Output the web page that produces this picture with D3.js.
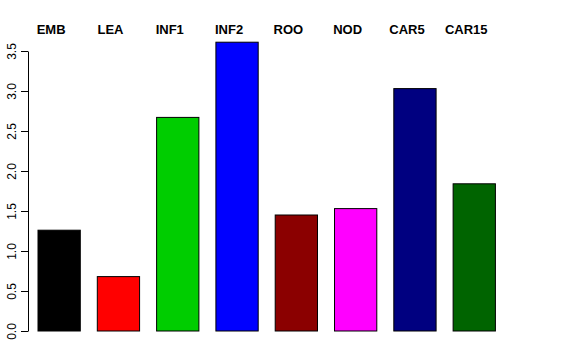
<!DOCTYPE html>
<html>
<head>
<meta charset="utf-8">
<script src="https://cdn.jsdelivr.net/npm/d3@7"></script>
<style>
  body { margin: 0; background: #fff; }
  text { font-family: "Liberation Sans", Arial, Helvetica, sans-serif; }
</style>
</head>
<body>
<script>
// data
var categories = ["EMB", "LEA", "INF1", "INF2", "ROO", "NOD", "CAR5", "CAR15"];
var values     = [1.26, 0.68, 2.67, 3.61, 1.45, 1.53, 3.03, 1.84];
var colors     = ["#000000", "#ff0000", "#00cd00", "#0000ff", "#8b0000", "#ff00ff", "#000080", "#006400"];
var yTicks     = [0, 0.5, 1, 1.5, 2, 2.5, 3, 3.5];

var w = 576, h = 360;

var svg = d3.select("body").append("svg")
    .attr("width", w)
    .attr("height", h);

var x = d3.scaleBand()
    .domain(categories)
    .range([38, 495.4])
    .paddingInner(0.287)
    .paddingOuter(0);

var y = d3.scaleLinear()
    .domain([0, 3.5])
    .range([331, 51]);

var color = d3.scaleOrdinal().domain(categories).range(colors);

// bars
svg.selectAll("rect.bar")
    .data(categories)
  .enter().append("rect")
    .attr("class", "bar")
    .attr("x", function(d) { return x(d); })
    .attr("y", function(d, i) { return y(values[i]); })
    .attr("width", x.bandwidth())
    .attr("height", function(d, i) { return y(0) - y(values[i]); })
    .attr("fill", function(d) { return color(d); })
    .attr("stroke", "#000")
    .attr("stroke-width", 1);

// y axis, R style with rotated labels
var yAxis = svg.append("g")
    .attr("transform", "translate(28,0)")
    .call(d3.axisLeft(y).tickValues(yTicks).tickSize(7).tickSizeOuter(0)
      .tickFormat(d3.format(".1f")));

yAxis.select(".domain").attr("stroke", "#000");
yAxis.selectAll(".tick line").attr("stroke", "#000");
yAxis.selectAll(".tick text")
    .attr("x", 0).attr("y", 0)
    .attr("dy", null)
    .attr("transform", "translate(-12,0) rotate(-90)")
    .attr("text-anchor", "middle")
    .attr("font-size", 12)
    .attr("font-family", "Liberation Sans, Arial, sans-serif")
    .attr("fill", "#000");

// labels above the plot
svg.selectAll("text.lab")
    .data(categories)
  .enter().append("text")
    .attr("class", "lab")
    .attr("x", function(d) { return x(d) + x.bandwidth() / 2 - 8; })
    .attr("y", 34)
    .attr("text-anchor", "middle")
    .attr("font-size", 13)
    .attr("font-weight", "bold")
    .text(function(d) { return d; });
</script>
</body>
</html>
